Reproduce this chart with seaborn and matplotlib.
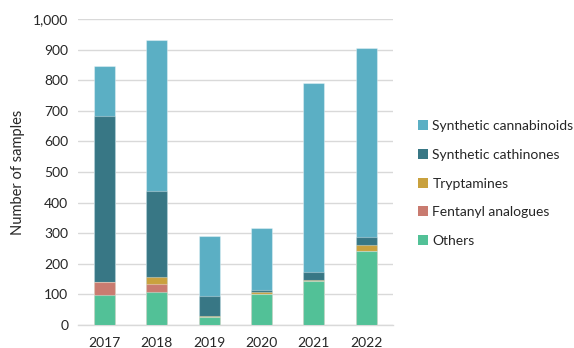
import numpy as np
import pandas as pd
import matplotlib
matplotlib.use('Agg')
import matplotlib.pyplot as plt
import seaborn as sns
from matplotlib.patches import Patch
from matplotlib.ticker import FuncFormatter

# Data
years = ['2017', '2018', '2019', '2020', '2021', '2022']
others = [97, 105, 24, 100, 143, 241]
fentanyl = [42, 27, 1, 1, 1, 1]
tryptamines = [0, 25, 3, 6, 2, 18]
cathinones = [543, 282, 67, 7, 25, 27]
cannabinoids = [166, 494, 196, 203, 621, 619]

labels = ['Synthetic cannabinoids', 'Synthetic cathinones', 'Tryptamines',
          'Fentanyl analogues', 'Others']
colors = ['#5BAFC4', '#387785', '#C9A13E', '#C97B70', '#52C197']

sns.set_style('white')
plt.rcParams['font.family'] = ['Lato', 'DejaVu Sans']

df = pd.DataFrame({'year': years, 'Others': others, 'Fentanyl analogues': fentanyl,
                   'Tryptamines': tryptamines, 'Synthetic cathinones': cathinones,
                   'Synthetic cannabinoids': cannabinoids})
# cumulative heights from the bottom layer up
order_bottom_up = ['Others', 'Fentanyl analogues', 'Tryptamines',
                   'Synthetic cathinones', 'Synthetic cannabinoids']
cum = df[order_bottom_up].cumsum(axis=1)

fig = plt.figure(figsize=(5.74, 3.48), dpi=100)
ax = fig.add_axes([0.136, 0.0675, 0.548, 0.8765])

color_map = dict(zip(labels, colors))
# draw tallest (top) layer first, smaller cumulative totals over it
for name in order_bottom_up[::-1]:
    sns.barplot(x=df['year'], y=cum[name], color=color_map[name], width=0.4,
                saturation=1, edgecolor=(1, 1, 1, 0.35), linewidth=0.8,
                ax=ax, zorder=3)

ax.set_ylim(0, 1000)
ax.set_xlim(-0.5, 5.5)
ax.set_yticks(np.arange(0, 1001, 100))
ax.yaxis.set_major_formatter(FuncFormatter(lambda v, p: f'{int(v):,}'))
ax.grid(axis='y', color='#d9d9d9', linewidth=1, zorder=0)
ax.set_axisbelow(True)
for s in ['top', 'right', 'left']:
    ax.spines[s].set_visible(False)
ax.spines['bottom'].set_color('#d9d9d9')
ax.spines['bottom'].set_linewidth(1)
ax.tick_params(axis='y', length=3, color='#d9d9d9', labelsize=10, labelcolor='#262626', pad=4)
ax.tick_params(axis='x', length=0, labelsize=10, labelcolor='#262626', pad=9)
ax.set_xlabel('')
ax.set_ylabel('Number of samples', fontsize=10.5, color='#262626', labelpad=6)

handles = [Patch(facecolor=c, edgecolor='none') for c in colors]
ax.legend(handles, labels, loc='center left', bbox_to_anchor=(1.04, 0.462),
          frameon=False, fontsize=10, handlelength=0.75, handleheight=0.75,
          handletextpad=0.3, labelspacing=1.2, labelcolor='#262626')

fig.savefig('out.png', dpi=100)
